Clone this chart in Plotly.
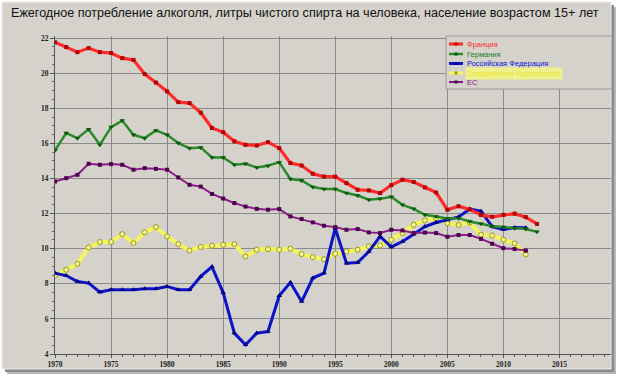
import plotly.graph_objects as go

years = list(range(1970, 2014))

france = [21.77, 21.49, 21.2, 21.43, 21.2, 21.15, 20.86, 20.76, 19.95, 19.47,
          18.96, 18.35, 18.3, 17.75, 16.88, 16.64, 16.12, 15.92, 15.88, 16.07,
          15.73, 14.88, 14.74, 14.27, 14.11, 14.11, 13.74, 13.36, 13.32, 13.17,
          13.62, 13.93, 13.8, 13.49, 13.2, 12.22, 12.42, 12.24, 11.92, 11.82,
          11.93, 12.0, 11.8, 11.41]
germany = [15.6, 16.59, 16.3, 16.81, 15.92, 16.93, 17.3, 16.49, 16.3, 16.74,
           16.49, 16.02, 15.73, 15.77, 15.2, 15.2, 14.78, 14.84, 14.63, 14.73,
           14.93, 13.97, 13.89, 13.51, 13.4, 13.4, 13.17, 13.03, 12.79, 12.84,
           12.96, 12.5, 12.27, 11.93, 11.83, 11.72, 11.74, 11.55, 11.42, 11.28,
           11.23, 11.17, 11.12, 10.96]
russia = [8.61, 8.47, 8.13, 8.04, 7.53, 7.66, 7.66, 7.66, 7.72, 7.72,
          7.85, 7.66, 7.66, 8.42, 8.97, 7.5, 5.19, 4.52, 5.19, 5.28,
          7.32, 8.07, 6.99, 8.33, 8.61, 11.17, 9.17, 9.21, 9.84, 10.7,
          10.1, 10.41, 10.83, 11.26, 11.49, 11.63, 11.81, 12.26, 12.14, 11.26,
          11.1, 11.21, 11.19]
uk = [8.46, 8.8, 9.14, 10.07, 10.38, 10.38, 10.83, 10.32, 10.93, 11.23,
      10.7, 10.26, 9.9, 10.1, 10.17, 10.22, 10.26, 9.56, 9.94, 9.98,
      9.94, 10.0, 9.69, 9.52, 9.4, 9.71, 9.84, 9.94, 10.13, 10.18,
      10.51, 10.89, 11.36, 11.61, 11.74, 11.46, 11.35, 11.49, 10.8, 10.75,
      10.51, 10.3, 9.67]
eu = [13.83, 14.02, 14.21, 14.84, 14.78, 14.82, 14.78, 14.5, 14.59, 14.55,
      14.5, 14.06, 13.64, 13.54, 13.12, 12.86, 12.6, 12.4, 12.27, 12.22,
      12.26, 11.84, 11.69, 11.5, 11.31, 11.23, 11.08, 11.12, 10.93, 10.89,
      11.08, 11.04, 10.89, 10.92, 10.89, 10.68, 10.78, 10.78, 10.56, 10.28,
      10.03, 9.98, 9.89]

names = ["Франция", "Германия", "Российская Федерация", "Соединённое Королевство", "ЕС"]
title = "Ежегодное потребление алкоголя, литры чистого спирта на человека, население возрастом 15+ лет"

W, H = 620, 378
L, R, T, B = 55, 9, 36, 24
PW, PH = W - L - R, H - T - B


def px(x):
    return (x - L) / PW


def py(y):
    return (H - B - y) / PH


styles = [
    dict(data=france, line=dict(color="#ff2a2a", width=3.2),
         marker=dict(symbol="square", size=4, color="#b00000")),
    dict(data=germany, line=dict(color="#2a8a2a", width=2.5),
         marker=dict(symbol="triangle-down", size=5, color="#0c5a0c")),
    dict(data=russia, line=dict(color="#0c12c8", width=3),
         marker=dict(symbol="triangle-up", size=5, color="#00007a")),
    dict(data=uk, line=dict(color="#f4f45c", width=4),
         marker=dict(symbol="circle", size=5, color="#f6f6b0",
                     line=dict(color="#9a9a00", width=1))),
    dict(data=eu, line=dict(color="#8a1a8a", width=2),
         marker=dict(symbol="square", size=4, color="#4a004a")),
]

fig = go.Figure()
order = [3, 2, 4, 1, 0]
for i in order:
    s = styles[i]
    fig.add_trace(go.Scatter(x=years[:len(s["data"])], y=s["data"], mode="lines+markers",
                             name=names[i], line=s["line"], marker=s["marker"],
                             showlegend=False))

panel = "#d5d2cc"
shapes = [
    dict(type="rect", xref="paper", yref="paper", x0=px(7), x1=px(616), y0=py(374), y1=py(7),
         fillcolor="#b8b8b8", line=dict(width=0), layer="below"),
    dict(type="rect", xref="paper", yref="paper", x0=px(5), x1=px(614), y0=py(372), y1=py(5),
         fillcolor="#8a8a8a", line=dict(width=0), layer="below"),
    dict(type="rect", xref="paper", yref="paper", x0=px(2), x1=px(611), y0=py(369), y1=py(2),
         fillcolor=panel, line=dict(color="#ecebe8", width=1), layer="below"),
    # legend box
    dict(type="rect", xref="paper", yref="paper", x0=px(446), x1=px(612), y0=py(89), y1=py(36),
         fillcolor=panel, line=dict(color="#9a9a9a", width=1), layer="above"),
]

leg_y = [44, 54, 63.5, 73, 82]
text_cols = ["#ff2a2a", "#1f7f1f", "#1018d0", "#e8e830", "#801880"]
annotations = [dict(text=title, xref="paper", yref="paper", x=px(9), y=py(13),
                    xanchor="left", yanchor="middle", showarrow=False,
                    font=dict(family="Liberation Sans, Arial", size=12.6, color="#111111"))]
for i, yy in enumerate(leg_y):
    s = styles[i]
    shapes.append(dict(type="line", xref="paper", yref="paper", x0=px(449), x1=px(463),
                       y0=py(yy), y1=py(yy),
                       line=dict(color=s["line"]["color"], width=min(s["line"]["width"], 3)),
                       layer="above"))
    mc = s["marker"]["color"] if i != 3 else "#9a9a00"
    shapes.append(dict(type="rect", xref="paper", yref="paper", x0=px(454.5), x1=px(457.5),
                       y0=py(yy + 1.5), y1=py(yy - 1.5), fillcolor=mc, line=dict(width=0),
                       layer="above"))
    annotations.append(dict(text=names[i], xref="paper", yref="paper", x=px(465), y=py(yy),
                            xanchor="left", yanchor="middle", showarrow=False,
                            bgcolor="#f0f08c" if i == 3 else None,
                            font=dict(family="Liberation Sans, Arial", size=7.5, color=text_cols[i])))

tickfont = dict(family="Liberation Serif, serif", size=7.5, color="#222222", weight="bold")
fig.update_layout(
    width=W, height=H, autosize=False,
    margin=dict(l=L, r=R, t=T, b=B, pad=0),
    paper_bgcolor="white", plot_bgcolor=panel,
    shapes=shapes, annotations=annotations,
    xaxis=dict(range=[1970, 2019.6], tick0=1970, dtick=5, showgrid=True, gridcolor="#8a8a8a",
               gridwidth=1, zeroline=False, showline=True, linecolor="#555555", linewidth=1,
               automargin=False,
               ticks="outside", ticklen=3, tickcolor="#555555", tickfont=tickfont,
               minor=dict(dtick=1, ticks="outside", ticklen=2, tickcolor="#666666", showgrid=False)),
    yaxis=dict(range=[4, 22.12], tick0=0, dtick=2, showgrid=True, gridcolor="#8a8a8a",
               gridwidth=1, zeroline=False, showline=True, linecolor="#555555", linewidth=1,
               automargin=False,
               ticks="outside", ticklen=4, tickcolor="#555555", tickfont=tickfont,
               minor=dict(dtick=0.5, ticks="outside", ticklen=2, tickcolor="#666666", showgrid=False)),
)

fig.write_html("out.html", config={"displayModeBar": False},
               post_script="document.body.style.margin='0';document.body.style.overflow='hidden';")
